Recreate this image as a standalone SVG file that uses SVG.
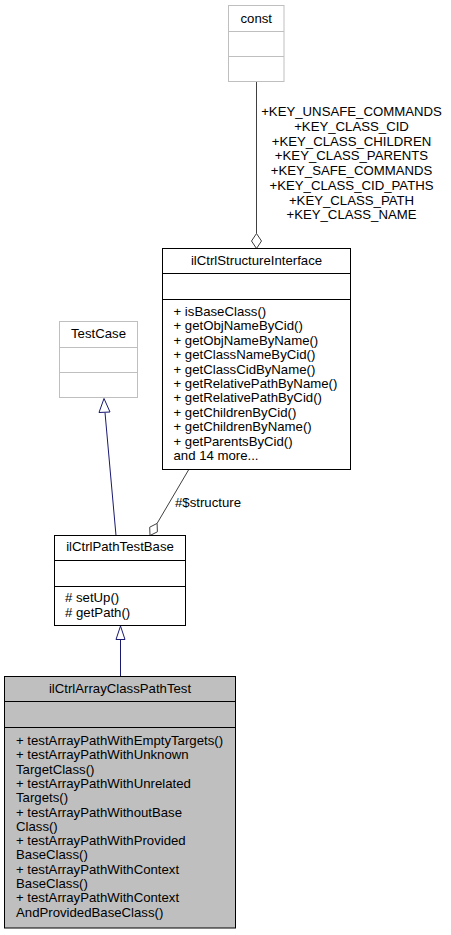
<svg xmlns="http://www.w3.org/2000/svg" width="451" height="935" viewBox="0 0 451 935">
<style>
text{font-family:"Liberation Sans",Arial,Helvetica,sans-serif;font-size:13.2px;fill:#000}
.c{text-anchor:middle}
.box{fill:#fff;stroke:#000;stroke-width:1}
.ext{fill:#fff;stroke:#bfbfbf;stroke-width:1}
.cur{fill:#bfbfbf;stroke:#000;stroke-width:1}
.dk{stroke:#000;stroke-width:1}
.lg{stroke:#bfbfbf;stroke-width:1}
.inh{stroke:#191970;stroke-width:1;fill:none}
.inhh{stroke:#191970;stroke-width:1;fill:#fff}
.agg{stroke:#404040;stroke-width:1;fill:none}
.aggh{stroke:#404040;stroke-width:1;fill:#fff}
</style>
<rect width="451" height="935" fill="#fff"/>
<g id="edges">
<path class="agg" d="M256.5,81.5 L256.5,233.5"/>
<polygon class="aggh" points="256.5,248.5 261.5,241 256.5,233.5 251.5,241"/>
<text class="c" x="351.5" y="116">+KEY_UNSAFE_COMMANDS</text>
<text class="c" x="351.5" y="131">+KEY_CLASS_CID</text>
<text class="c" x="351.5" y="145.5">+KEY_CLASS_CHILDREN</text>
<text class="c" x="351.5" y="160">+KEY_CLASS_PARENTS</text>
<text class="c" x="351.5" y="175">+KEY_SAFE_COMMANDS</text>
<text class="c" x="351.5" y="189.5">+KEY_CLASS_CID_PATHS</text>
<text class="c" x="351.5" y="204.5">+KEY_CLASS_PATH</text>
<text class="c" x="351.5" y="219">+KEY_CLASS_NAME</text>
<path class="inh" d="M116,535.5 L105,412.5"/>
<polygon class="inhh" points="104,398.5 99,412.5 110,412"/>
<path class="agg" d="M188.5,470 L157.1,523.4"/>
<polygon class="aggh" points="150,535.5 157.4,531.8 157.1,523.4 149.7,527.2"/>
<text x="175" y="507">#$structure</text>
<path class="inh" d="M120.5,676.5 L120.5,639.5"/>
<polygon class="inhh" points="120.5,626 116,639.5 125,639.5"/>
</g>
<g id="node-const">
<rect class="ext" x="228.5" y="5.5" width="55.5" height="76"/>
<line class="lg" x1="228.5" y1="31.5" x2="284" y2="31.5"/>
<line class="lg" x1="228.5" y1="56.5" x2="284" y2="56.5"/>
<text class="c" x="256.25" y="23">const</text>
</g>
<g id="node-ilCtrlStructureInterface">
<rect class="box" x="162.5" y="248.5" width="188" height="221"/>
<line class="dk" x1="162.5" y1="273.5" x2="350.5" y2="273.5"/>
<line class="dk" x1="162.5" y1="299.5" x2="350.5" y2="299.5"/>
<text class="c" x="256.5" y="265">ilCtrlStructureInterface</text>
<text x="173.5" y="316">+ isBaseClass()</text>
<text x="173.5" y="330.4">+ getObjNameByCid()</text>
<text x="173.5" y="344.8">+ getObjNameByName()</text>
<text x="173.5" y="359.2">+ getClassNameByCid()</text>
<text x="173.5" y="373.6">+ getClassCidByName()</text>
<text x="173.5" y="388">+ getRelativePathByName()</text>
<text x="173.5" y="402.4">+ getRelativePathByCid()</text>
<text x="173.5" y="416.8">+ getChildrenByCid()</text>
<text x="173.5" y="431.2">+ getChildrenByName()</text>
<text x="173.5" y="445.6">+ getParentsByCid()</text>
<text x="173.5" y="460">and 14 more...</text>
</g>
<g id="node-TestCase">
<rect class="ext" x="59.5" y="321.5" width="78" height="76"/>
<line class="lg" x1="59.5" y1="347.5" x2="137.5" y2="347.5"/>
<line class="lg" x1="59.5" y1="372.5" x2="137.5" y2="372.5"/>
<text class="c" x="98.5" y="338">TestCase</text>
</g>
<g id="node-ilCtrlPathTestBase">
<rect class="box" x="54.5" y="535.5" width="131" height="90"/>
<line class="dk" x1="54.5" y1="560.5" x2="185.5" y2="560.5"/>
<line class="dk" x1="54.5" y1="586.5" x2="185.5" y2="586.5"/>
<text class="c" x="120" y="551">ilCtrlPathTestBase</text>
<text x="65" y="602">#&#160;setUp()</text>
<text x="65" y="617">#&#160;getPath()</text>
</g>
<g id="node-ilCtrlArrayClassPathTest">
<rect class="cur" x="4.5" y="676.5" width="231" height="251.5"/>
<line class="dk" x1="4.5" y1="701.5" x2="235.5" y2="701.5"/>
<line class="dk" x1="4.5" y1="727.5" x2="235.5" y2="727.5"/>
<text class="c" x="120" y="693">ilCtrlArrayClassPathTest</text>
<text x="16" y="745">+ testArrayPathWithEmptyTargets()</text>
<text x="16" y="759.3">+ testArrayPathWithUnknown</text>
<text x="16" y="773.6">TargetClass()</text>
<text x="16" y="787.9">+ testArrayPathWithUnrelated</text>
<text x="16" y="802.2">Targets()</text>
<text x="16" y="816.5">+ testArrayPathWithoutBase</text>
<text x="16" y="830.8">Class()</text>
<text x="16" y="845.1">+ testArrayPathWithProvided</text>
<text x="16" y="859.4">BaseClass()</text>
<text x="16" y="873.7">+ testArrayPathWithContext</text>
<text x="16" y="888">BaseClass()</text>
<text x="16" y="902.3">+ testArrayPathWithContext</text>
<text x="16" y="916.6">AndProvidedBaseClass()</text>
</g>
</svg>
